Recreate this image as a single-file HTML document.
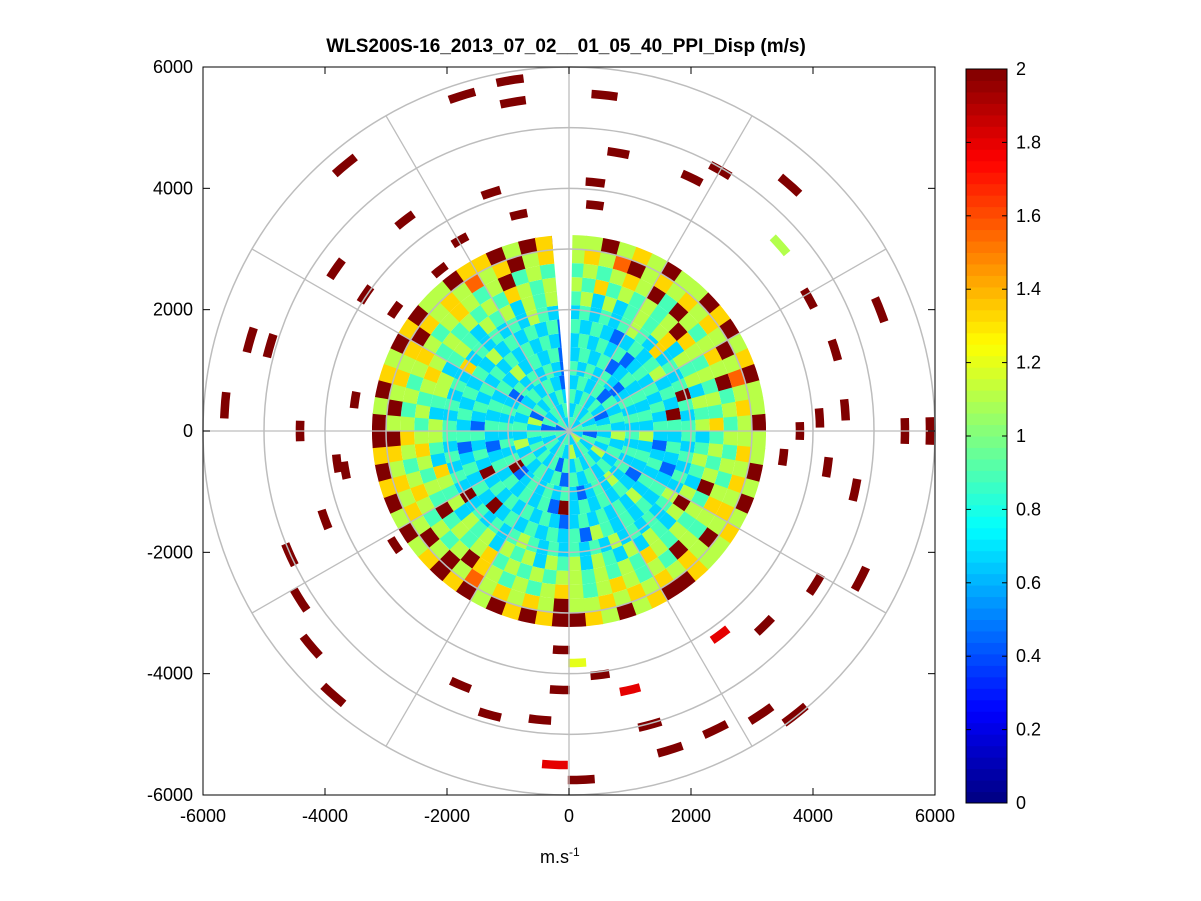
<!DOCTYPE html>
<html><head><meta charset="utf-8"><style>
html,body{margin:0;padding:0;background:#fff;}
svg{display:block;font-family:"Liberation Sans",sans-serif;}
</style></head><body>
<svg id="chart" width="1201" height="901" viewBox="0 0 1201 901" xmlns="http://www.w3.org/2000/svg">
<rect width="1201" height="901" fill="#fff"/>
<text x="566" y="52" text-anchor="middle" font-size="19" font-weight="bold">WLS200S-16_2013_07_02__01_05_40_PPI_Disp (m/s)</text>
<g id="data"></g>
<g id="grid"></g>
<g id="axes"></g>
<g id="cbar"></g>
<text x="540" y="863" font-size="18">m.s<tspan dy="-7" font-size="12">-1</tspan></text>
</svg>
<script>
// ring values: digit d -> value d*2/9 (0..2 m/s), inner ring first, clockwise from north
const rings = [
"434353434243",
"343434243435343434243434",
"434343234343534343424343434352434343",
"343424343534343434243434353434343432",
"434343234343434343534323434343294343434324343432",
"343423434343534323434343924343434323434343534342",
"343434234343434323434353434343234343434393434234343434343432",
"434323434534394343234343434524343434393434324343434353434342",
"343434543634349434434343543434353434343454343439343434434343634343435434",
"453534545635453545345435953453534535453545354535456345534553454354535453",
"546454545965454546454594545456454545545454654549454565454565454545465454",
"454565949545659454545456545945456545654545695454565456545456545654594545",
"565795656565957565565656595656565655956565759595656569595656965657569565",
"559565955969569559559595655699659569969695969659596969959659695596695969"
];
const discRadius = 3230;
// sparse outer returns: [range m, azimuth deg, value]
const segRange = [5566,5500,5800,5860,4120,4655,4630,4960,5436,4620,5717,4130,3660,4394,3747,4663,5440,5100,5655,4410,5474,4560,4500,4540,5508,5918,4115,3786,4790,4280,3540,5365,4765,4532,5968,5630,5477,5510,5022,4383,4173,5753,5507,4784,4270,4052,3824,3611,4550,4855,5820,5518,5215,5010,4260,3728,3415,3545,3836,4025,3480,3618,3392];
const segAz = [6,-9.6,-17.6,-9.5,6,10,25.8,30,41.8,48.5,-40,-18,-13,-37.7,6.5,-55,-74,-74,-85.7,-90,68.6,73,61,85.6,90,90,87,90,101.7,98,97,117,122,135,141.6,146,154,162.5,164.7,166.8,143.6,178,182.4,185.7,182,172.8,178,182,203,195.5,221.6,230,237.7,246,250,260,236.6,-81.7,262,-56,-55,-29.6,-38.6];
const segVal = [2,2,2,2,2,2,2,2,2,1.1,2,2,2,2,2,2,2,2,2,2,2,2,2,2,2,2,2,2,2,2,2,2,2,2,2,2,2,2,2,1.8,1.8,2,1.8,2,2,2,1.2,2,2,2,2,2,2,2,2,2,2,2,2,2,2,2,2];
const xTicks = [-6000,-4000,-2000,0,2000,4000,6000];
const yTicks = [6000,4000,2000,0,-2000,-4000,-6000];
const cbTicks = [0,0.2,0.4,0.6,0.8,1,1.2,1.4,1.6,1.8,2];

const NS="http://www.w3.org/2000/svg";
const cx=569, cy=431, sx=732/12000, sy=728/12000;
function X(x){return cx+x*sx;} function Y(y){return cy-y*sy;}
function P(r,az){const a=az*Math.PI/180;return [X(r*Math.sin(a)),Y(r*Math.cos(a))];}
function jet(v){let t=Math.max(0,Math.min(1,v/2));
 const f=(x)=>Math.max(0,Math.min(1,1.5-Math.abs(4*t-x)));
 return `rgb(${Math.round(f(3)*255)},${Math.round(f(2)*255)},${Math.round(f(1)*255)})`;}
function sector(r0,r1,a0,a1){const n=Math.max(2,Math.ceil(Math.abs(a1-a0)/1.5));let pts=[];
 for(let i=0;i<=n;i++)pts.push(P(r1,a0+(a1-a0)*i/n));
 for(let i=n;i>=0;i--)pts.push(P(r0,a0+(a1-a0)*i/n));
 return pts.map(p=>p[0].toFixed(1)+","+p[1].toFixed(1)).join(" ");}
function el(tag,attrs,parent){const e=document.createElementNS(NS,tag);for(const k in attrs)e.setAttribute(k,attrs[k]);parent.appendChild(e);return e;}
const gd=document.getElementById('data');
const dr=discRadius/rings.length;
rings.forEach((s,ri)=>{const n=s.length;for(let i=0;i<n;i++){const c=s[i];if(c==='.')continue;
 const v=(+c)*2/9;
 const p=el('polygon',{points:sector(ri*dr,(ri+1)*dr,i*360/n,(i+1)*360/n+0.3),fill:jet(v)},gd);
 
 }});
const gap=el('polygon',{points:sector(0,discRadius+50,-5,1),fill:'#fff'},gd);


segRange.forEach((r,i)=>{
 const p=el('polygon',{points:sector(r-70,r+70,segAz[i]-2.2,segAz[i]+2.2),fill:jet(segVal[i])},gd);
 
 });
const gg=document.getElementById('grid');
for(let r=1000;r<=6000;r+=1000){const c=el('ellipse',{cx:cx,cy:cy,rx:r*sx,ry:r*sy,fill:'none',stroke:'#bdbdbd','stroke-width':1.5},gg);
 
 }
for(let a=0;a<360;a+=30){const p=P(6000,a);const l=el('line',{x1:cx,y1:cy,x2:p[0],y2:p[1],stroke:'#bdbdbd','stroke-width':1.3},gg);
 
 }
const ga=document.getElementById('axes');
const box=el('rect',{x:X(-6000),y:Y(6000),width:12000*sx,height:12000*sy,fill:'none',stroke:'#000','stroke-width':1},ga);


xTicks.forEach(v=>{el('line',{x1:X(v),y1:Y(-6000),x2:X(v),y2:Y(-6000)-7,stroke:'#000'},ga);el('line',{x1:X(v),y1:Y(6000),x2:X(v),y2:Y(6000)+7,stroke:'#000'},ga);
 const t=el('text',{x:X(v),y:Y(-6000)+27,'text-anchor':'middle','font-size':18},ga);t.textContent=v;
 
 });
yTicks.forEach(v=>{el('line',{x1:X(-6000),y1:Y(v),x2:X(-6000)+7,y2:Y(v),stroke:'#000'},ga);el('line',{x1:X(6000),y1:Y(v),x2:X(6000)-7,y2:Y(v),stroke:'#000'},ga);
 const t=el('text',{x:X(-6000)-10,y:Y(v)+6,'text-anchor':'end','font-size':18},ga);t.textContent=v;
 
 });
const gc=document.getElementById('cbar');
const cbx=966,cbw=41,cbt=69,cbb=803;
function CY(v){return cbb-(v/2)*(cbb-cbt);}
for(let i=0;i<64;i++){const v0=i*2/64,v1=(i+1)*2/64;const r=el('rect',{x:cbx,y:CY(v1),width:cbw,height:CY(v0)-CY(v1)+0.5,fill:jet((v0+v1)/2)},gc);
 
 }
el('rect',{x:cbx,y:cbt,width:cbw,height:cbb-cbt,fill:'none',stroke:'#000'},gc);
cbTicks.forEach(v=>{el('line',{x1:cbx,y1:CY(v),x2:cbx+5,y2:CY(v),stroke:'#000'},gc);el('line',{x1:cbx+cbw,y1:CY(v),x2:cbx+cbw-5,y2:CY(v),stroke:'#000'},gc);
 const t=el('text',{x:cbx+cbw+9,y:CY(v)+6,'font-size':18},gc);t.textContent=String(v);
 
 });
</script>
</body></html>
